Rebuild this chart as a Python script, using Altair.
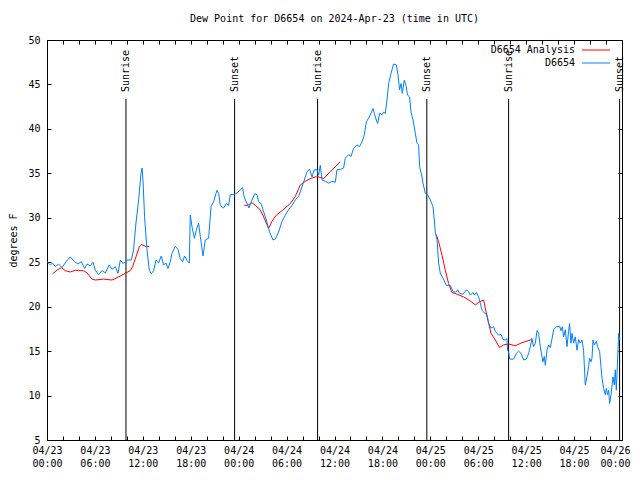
import altair as alt
import pandas as pd

# Hours since 2024-04-23 00:00 UTC and dew point (deg F)
blue_hours = [0.00, 0.41, 0.70, 1.04, 1.45, 1.88, 2.38, 2.92, 3.46, 3.88, 4.30, 4.71, 5.01, 5.42, 5.76,
              6.05, 6.46, 6.89, 7.30, 7.80, 8.14, 8.55, 8.89, 9.18, 9.47, 9.80, 10.02, 10.56, 10.84,
              11.14, 11.47, 11.77, 11.90, 12.02, 12.22, 12.52, 12.81, 13.06, 13.35, 13.65, 13.97,
              14.31, 14.60, 14.90, 15.15, 15.44, 15.65, 16.07, 16.40, 16.69, 16.98, 17.23, 17.53,
              17.82, 17.94, 18.16, 18.45, 18.70, 18.98, 19.20, 19.53, 19.82, 20.24, 20.54, 20.86,
              21.29, 21.49, 21.70, 22.11, 22.45, 22.74, 22.95, 23.37, 23.79, 24.20, 24.49, 24.62,
              24.83, 25.04, 25.29, 25.58, 26.00, 26.30, 26.50, 26.80, 27.05, 27.46, 27.87, 28.30,
              28.59, 29.00, 29.43, 29.84, 30.25, 30.68, 31.09, 31.51, 31.93, 32.22, 32.56, 32.88,
              33.18, 33.47, 33.81, 34.01, 34.22, 34.44, 34.85, 35.26, 35.69, 36.10, 36.31, 36.73,
              37.14, 37.35, 37.77, 38.07, 38.39, 38.82, 39.14, 39.44, 39.73, 39.98, 40.27, 40.57,
              40.82, 40.99, 41.23, 41.40, 41.65, 41.95, 42.15, 42.36, 42.57, 42.78, 43.08, 43.40,
              43.74, 43.95, 44.15, 44.33, 44.49, 44.74, 44.99, 45.15, 45.40, 45.58, 45.83, 46.12,
              46.33, 46.53, 46.66, 46.96, 47.08, 47.37, 47.66, 48.00, 48.33, 48.50, 48.62, 48.84,
              49.04, 49.25, 49.59, 50.00, 50.50, 50.84, 51.13, 51.42, 51.67, 52.09, 52.51, 52.79,
              53.01, 53.34, 53.51, 53.76, 54.04, 54.26, 54.47, 54.76, 55.10, 55.30, 55.60, 55.92,
              56.14, 56.55, 56.85, 57.10, 57.39, 57.60, 57.67, 57.80, 57.93, 58.43, 58.77, 59.05,
              59.35, 59.68, 60.02, 60.31, 60.52, 60.73, 60.93, 61.15, 61.36, 61.56, 61.77, 61.98,
              62.11, 62.27, 62.40, 62.61, 62.81, 63.02, 63.24, 63.44, 63.78, 64.19, 64.36, 64.53,
              64.69, 64.90, 65.11, 65.31, 65.44, 65.61, 65.74, 65.94, 66.15, 66.37, 66.57, 66.78,
              66.99, 67.19, 67.40, 67.62, 67.82, 67.94, 68.12, 68.24, 68.37, 68.53, 68.78, 68.95,
              69.20, 69.37, 69.50, 69.70, 69.91, 70.04, 70.20, 70.33, 70.45, 70.63, 70.87, 71.04,
              71.16, 71.29, 71.45, 71.58, 71.70]
blue_vals = [25.06, 24.7, 24.9, 24.5, 24.8, 24.4, 25.06, 25.6, 25.06, 24.8, 25.06, 24.3, 24.8, 24.6, 25.0,
             24.1, 23.6, 24.05, 23.8, 24.7, 24.2, 24.5, 23.75, 25.25, 24.9, 24.95, 25.25, 25.25, 26.4,
             29.4, 32.0, 35.0, 35.6, 34.25, 30.1, 26.4, 24.1, 23.7, 24.05, 25.25, 24.9,
             25.7, 24.7, 24.9, 24.3, 25.06, 26.0, 26.8, 26.45, 25.4, 25.06, 25.7, 25.2,
             24.9, 30.3, 29.0, 27.7, 28.6, 29.4, 27.9, 25.7, 27.5, 27.7, 31.25, 31.8,
             33.1, 32.75, 31.4, 31.1, 31.6, 31.4, 32.6, 32.6, 32.8, 33.1, 33.4, 32.6,
             32.0, 31.6, 31.1, 31.8, 32.7, 32.6, 31.8, 31.6, 30.9, 29.75, 28.4, 27.5,
             27.6, 28.4, 29.6, 30.3, 30.9, 31.4, 32.0, 32.4, 33.5, 34.25, 35.2, 35.45,
             34.6, 35.4, 35.4, 34.8, 35.9, 34.25, 34.1, 33.9, 34.1, 34.0, 35.4, 35.45,
             35.6, 36.7, 37.1, 36.9, 37.8, 38.2, 38.0, 38.55, 39.3, 40.8, 41.2, 41.75,
             42.3, 41.75, 41.0, 40.6, 41.75, 41.6, 41.9, 41.75, 43.25, 45.1, 46.25, 47.3,
             47.2, 46.1, 44.4, 45.1, 44.0, 45.5, 44.75, 43.8, 43.6, 41.9, 41.0, 39.5,
             38.4, 38.2, 35.75, 34.6, 33.9, 32.75, 32.6, 32.0, 31.25, 29.75, 28.4, 27.5,
             24.9, 23.75, 23.2, 22.4, 22.4, 21.7, 21.6, 21.9, 21.5, 21.4, 21.9, 21.7,
             21.3, 21.6, 21.3, 21.6, 21.1, 20.4, 19.6, 19.3, 19.1, 18.1, 17.6, 17.75,
             17.2, 16.8, 16.9, 16.3, 16.25, 16.4, 15.1, 14.95, 14.1, 14.1, 14.75, 15.0,
             14.75, 14.0, 14.1, 14.75, 15.5, 16.4, 15.5, 15.9, 17.3, 17.0, 15.5, 14.4,
             13.8, 14.4, 13.4, 15.1, 15.7, 15.4, 16.4, 17.4, 17.75, 17.8, 17.3, 17.75,
             16.6, 17.4, 15.5, 17.2, 18.1, 15.9, 17.0, 15.9, 16.6, 15.1, 16.3, 15.9,
             16.25, 15.1, 11.2, 12.1, 13.25, 14.2, 13.8, 14.2, 16.25, 15.7, 16.1, 15.5,
             14.95, 13.25, 11.95, 10.8, 10.1, 10.8, 10.1, 10.6, 9.1, 10.1, 12.1, 11.2,
             12.9, 10.6, 14.0, 17.0, 16.25]

red_hours = [0.70, 1.25, 1.79, 2.29, 2.92, 3.54, 3.96, 4.58, 5.01, 5.63, 6.05, 7.09, 8.14, 8.64,
             9.18, 9.80, 10.43, 10.72, 11.14, 11.56, 11.81, 12.31, 12.81,
             24.70, 25.12, 25.67, 26.08, 26.71, 27.12, 27.75, 28.17, 28.71, 29.43, 30.47, 31.09,
             31.72, 32.34, 32.97, 33.60, 34.01, 34.64, 35.47, 36.10, 36.73,
             48.75, 49.04, 49.46, 49.87, 50.29, 50.71, 51.34, 52.17, 53.00, 53.63, 54.17, 54.67,
             55.10, 55.60, 56.14, 56.67, 57.17, 57.80, 58.64, 59.48, 60.52, 60.73]
red_vals = [23.7, 24.1, 24.4, 24.05, 23.9, 24.1, 24.05, 24.05, 23.8, 23.1, 23.0, 23.1, 23.0, 23.2,
            23.45, 23.75, 24.05, 24.5, 25.6, 26.75, 27.0, 26.8, 26.75,
            31.4, 31.4, 31.7, 31.4, 30.9, 30.1, 28.8, 29.6, 30.3, 30.8, 31.6, 32.4,
            33.7, 34.1, 34.4, 34.6, 34.6, 34.4, 35.2, 35.75, 36.3,
            28.1, 27.3, 25.8, 24.1, 22.6, 21.6, 21.4, 21.1, 20.65, 20.2, 20.55, 20.75,
            18.9, 17.0, 16.25, 15.4, 15.7, 15.8, 15.6, 15.95, 16.25, 16.4]
red_seg = [1] * 23 + [2] * 21 + [3] * 22

sun_hours = [9.89, 23.49, 33.88, 47.56, 57.80, 71.70]
sun_labels = ["Sunrise", "Sunset", "Sunrise", "Sunset", "Sunrise", "Sunset"]

legend_labels = ["D6654 Analysis", "D6654"]
legend_colors = ["#ff0000", "#0080ff"]

x_tick_hours = list(range(0, 73, 2))
y_ticks = list(range(5, 51, 5))

FONT = "DejaVu Sans Mono"

blue = pd.DataFrame({"h": blue_hours, "v": blue_vals})
red = pd.DataFrame({"h": red_hours, "v": red_vals, "seg": red_seg})
sun = pd.DataFrame({"h": sun_hours, "label": sun_labels})

xscale = alt.Scale(domain=[0, 72], nice=False, zero=False)
yscale = alt.Scale(domain=[5, 50], nice=False, zero=False)

label_expr = ("datum.value % 6 == 0 ? ['04/' + (23 + floor(datum.value / 24)), "
              "format(datum.value % 24, '02d') + ':00'] : ''")

xaxis = alt.Axis(values=x_tick_hours, tickCount=100, labelExpr=label_expr, offset=-4, tickSize=4,
                 domain=False, grid=False, labelPadding=5, labelLineHeight=13, labelFlush=False,
                 labelOverlap=False, labelBaseline="top", title=None,
                 labelOffset={"expr": "datum.value == 72 ? -7 : 0"})
yaxis = alt.Axis(values=y_ticks, tickCount=50, offset=-4, tickSize=4, domain=False, grid=False,
                 labelPadding=7, labelFlush=False, labelOverlap=False, title="degrees F",
                 titlePadding=9, titleFontWeight="normal")

X = alt.X("h:Q", scale=xscale, axis=xaxis)
Y = alt.Y("v:Q", scale=yscale, axis=yaxis)

rules = alt.Chart(sun).mark_rule(color="black", strokeWidth=1).encode(
    x=X, y=alt.value(59), y2=alt.value(400))
sun_text = alt.Chart(sun).mark_text(angle=270, align="left", baseline="middle", font=FONT,
                                    fontSize=10, color="black").encode(
    x=X, y=alt.value(52), text="label:N")

red_line = alt.Chart(red).mark_line(color=legend_colors[0], strokeWidth=1).encode(
    x=X, y=Y, detail="seg:N")
blue_line = alt.Chart(blue).mark_line(color=legend_colors[1], strokeWidth=1).encode(
    x=X, y=Y)

legend_layers = []
for i, (lab, col) in enumerate(zip(legend_labels, legend_colors)):
    ly = 10 + 13 * i
    ldf = pd.DataFrame({"label": [lab]})
    legend_layers.append(alt.Chart(ldf).mark_text(align="right", baseline="middle", font=FONT,
                                                  fontSize=10, color="black").encode(
        x=alt.value(528), y=alt.value(ly), text="label:N"))
    legend_layers.append(alt.Chart(ldf).mark_rule(color=col, strokeWidth=1).encode(
        x=alt.value(535), x2=alt.value(563), y=alt.value(ly)))

main = alt.layer(rules, sun_text, red_line, blue_line, *legend_layers)

mirror = alt.Chart(blue).mark_point(opacity=0).encode(
    x=alt.X("h:Q", scale=xscale,
            axis=alt.Axis(orient="top", values=x_tick_hours, tickCount=100, labels=False,
                          offset=-4, tickSize=4, domain=False, grid=False, title=None)),
    y=alt.Y("v:Q", scale=yscale,
            axis=alt.Axis(orient="right", values=y_ticks, tickCount=50, labels=False, offset=-4,
                          tickSize=4, domain=False, grid=False, title=None)))

chart = alt.layer(main, mirror).resolve_scale(x="independent", y="independent").properties(
    width=575, height=400,
    title="Dew Point for D6654 on 2024-Apr-23 (time in UTC)",
    autosize=alt.AutoSizeParams(type="none"),
    padding={"left": 39, "top": 32, "right": 10, "bottom": 30},
).configure_view(stroke="black", strokeWidth=1).configure_axis(
    labelFont=FONT, labelFontSize=10, labelColor="black", tickColor="black", tickWidth=1,
    titleFont=FONT, titleFontSize=10, titleColor="black"
).configure_title(font=FONT, fontSize=10, fontWeight="normal", color="black", anchor="middle",
                  offset=11)

chart.save("out.html", embed_options={"renderer": "svg", "actions": False})
